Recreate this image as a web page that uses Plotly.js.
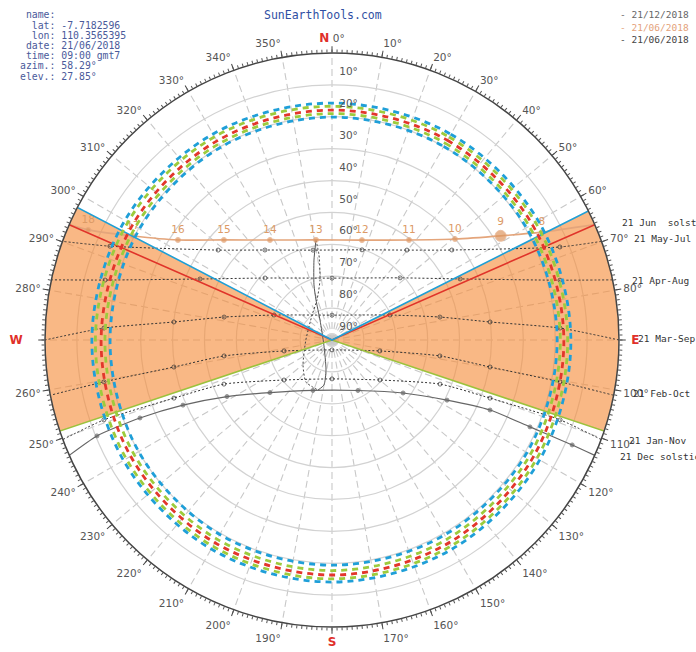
<!DOCTYPE html>
<html><head><meta charset="utf-8">
<script src="https://cdn.plot.ly/plotly-3.0.1.min.js"></script>
<style>html,body{margin:0;padding:0;background:#fff}</style>
</head><body>
<div id="chart" style="width:696px;height:652px"></div>
<script>
// ---------- data (azimuth in degrees from N clockwise, elevation in degrees) ----------
const elevTicks = [10, 20, 30, 40, 50, 60, 70, 80, 90];
const elevTickText = ['10°', '20°', '30°', '40°', '50°', '60°', '70°', '80°', '90°'];
const azTicks = [0,10,20,30,40,50,60,70,80,90,100,110,120,130,140,150,160,170,180,190,200,210,220,230,240,250,260,270,280,290,300,310,320,330,340,350];

// shaded sectors (start / end azimuth)
const sectorStart = [63.3, 251.5];
const sectorEnd = [108.5, 297.5];

// rays: [left az, right az], reach expressed as elevation below horizon
const blueRayAz = [297.5, 63.3];   const blueRayEl = [-18.8, -19.0];
const redRayAz = [293.7, 66.3];    const redRayEl = [-18.2, -19.0];
const greenRayAz = [251.5, 108.5]; const greenRayEl = [-16.6, -28.0];

// selected date 21/06/2018 sun path with hours
const junAz = [66.3, 62.8, 58.29, 50.6, 37.6, 16.7, 350.9, 328.2, 312.8, 303.0, 297.6, 294.3, 293.7];
const junEl = [0, 16.0, 27.85, 40.1, 50.4, 57.3, 58.2, 53.1, 43.8, 32.4, 19.6, 6.1, 0];
const junHours = ['', '8', '9', '10', '11', '12', '13', '14', '15', '16', '17', '18', ''];

// monthly sun paths
const mayJulAz = [69.9, 67.8, 53.1, 39.8, 18.4, 348.1, 323.3, 308.3, 292.9, 290.1];
const mayJulEl = [0, 12.8, 43.0, 53.3, 60.2, 61.2, 54.8, 44.5, 14.4, 0];
const aprAugAz = [77.9, 75.3, 64.5, 47.6, 0, 312.8, 294.8, 284.8, 282.1];
const aprAugEl = [0, 16.1, 45.5, 61.1, 70.6, 61.4, 44.4, 16.4, 0];
const marSepAz = [90, 87.0, 83.5, 78.0, 66.7, 0, 293.3, 282.0, 276.5, 273.0, 270];
const marSepEl = [0, 18.4, 40.1, 55.4, 70.2, 82.2, 70.2, 55.4, 40.1, 18.4, 0];
const febOctAz = [101.1, 100.4, 99.7, 98.4, 102.9, 180, 257.1, 261.6, 260.3, 259.6, 258.9];
const febOctEl = [0, 17.3, 39.7, 55.8, 74.6, 86.9, 74.6, 55.8, 39.7, 17.3, 0];
const janNovAz = [110.3, 109.3, 110.2, 112.2, 129.8, 180, 230.2, 247.8, 249.8, 250.7, 249.7];
const janNovEl = [0, 14.2, 37.2, 53.4, 70.4, 77.8, 70.4, 53.4, 37.2, 14.2, 0];
const decAz = [113.7, 113.6, 113.7, 113.9, 117.6, 126.7, 152.8, 200.7, 229.7, 241.7, 246.4, 247.9, 247.8, 246.3];
const decEl = [0, 7.8, 22.2, 35.8, 49.3, 62.2, 72.2, 73.1, 64.5, 52.6, 39.0, 25.0, 10.4, 0];

// analemma (13h)
const anaSolidAz = [350.9, 347.3, 341.9, 338.2, 329.0, 238.0, 191.3, 190.1, 195.6];
const anaSolidEl = [58.2, 64.3, 71.8, 76.5, 82.7, 87.0, 80.4, 75.7, 73.7];
const anaDotAz = [350.9, 351.3, 348.7, 339.4, 321.3, 270.0, 229.2, 211.8, 195.6];
const anaDotEl = [58.2, 63.0, 70.8, 76.6, 80.0, 81.8, 78.0, 74.5, 73.7];

// dashed rings
const ringAz = [0, 30, 60, 90, 120, 150, 180, 210, 240, 270, 300, 330, 360];
const ringOuterBlue  = [15.7, 15.5, 15.3, 15.1, 14.8, 14.4, 14.1, 14.3, 14.5, 14.7, 15.0, 15.4, 15.7];
const ringOuterGreen = [16.7, 16.5, 16.3, 16.1, 15.8, 15.4, 15.1, 15.3, 15.5, 15.8, 16.1, 16.4, 16.7];
const ringRed        = [17.9, 17.7, 17.5, 17.3, 17.0, 16.6, 16.3, 16.6, 17.1, 17.6, 17.8, 17.9, 17.9];
const ringInnerGreen = [19.0, 18.8, 18.6, 18.4, 18.2, 17.9, 17.7, 17.9, 18.3, 18.8, 18.9, 19.0, 19.0];
const ringInnerBlue  = [20.1, 19.9, 19.6, 19.4, 19.4, 19.4, 19.4, 19.6, 20.0, 20.4, 20.3, 20.2, 20.1];

// texts
const infoLines = [' name:', '  lat: -7.7182596', '  lon: 110.3565395', ' date: 21/06/2018', ' time: 09:00 gmt7', 'azim.: 58.29°', 'elev.: 27.85°'];
const legendLines = ['- 21/12/2018', '- 21/06/2018', '- 21/06/2018'];
const legendColors = ['#666666', '#e4a27a', '#444444'];
const pathLabels = ['21 Jun  solst', '21 May-Jul', '21 Apr-Aug', '21 Mar-Sep', '21 Feb-Oct', '21 Jan-Nov', '21 Dec solstic'];

// ---------- build ----------
const zen = a => a.map(e => 90 - e);
const W = 696, H = 652;
const px = x => x / W, py = y => 1 - y / H;

const traces = [];
traces.push({
  type: 'barpolar', subplot: 'polar',
  r: sectorStart.map(() => 90),
  theta: sectorStart.map((s, i) => (s + sectorEnd[i]) / 2),
  width: sectorStart.map((s, i) => sectorEnd[i] - s),
  marker: {color: 'rgba(245,140,58,0.62)', line: {width: 0}},
  hoverinfo: 'skip'
});

function pathTrace(az, el, dash, color, width, msym, msize) {
  return {
    type: 'scatterpolar', subplot: 'polar', mode: msize ? 'lines+markers' : 'lines',
    theta: az, r: zen(el),
    line: {color: color, width: width, dash: dash, shape: 'spline', smoothing: 0.6},
    marker: {symbol: msym, size: az.map((_, i) => (i === 0 || i === az.length - 1) ? 0 : msize), color: color, line: {color: color, width: 1}},
    hoverinfo: 'skip', cliponaxis: true
  };
}
traces.push(pathTrace(mayJulAz, mayJulEl, '2px,2px', '#333', 1, 'circle-open', 4));
traces.push(pathTrace(aprAugAz, aprAugEl, '2px,2px', '#333', 1, 'circle-open', 4));
traces.push(pathTrace(marSepAz, marSepEl, '2px,2px', '#333', 1, 'circle-open', 4));
traces.push(pathTrace(febOctAz, febOctEl, '2px,2px', '#333', 1, 'circle-open', 4));
traces.push(pathTrace(janNovAz, janNovEl, '2px,2px', '#333', 1, 'circle-open', 4));
traces.push(pathTrace(decAz, decEl, 'solid', '#666', 1.2, 'circle', 4));
traces.push(pathTrace(anaSolidAz, anaSolidEl, 'solid', '#555', 1, 'circle', 0));
traces.push(pathTrace(anaDotAz, anaDotEl, '2px,2px', '#444', 1, 'circle', 0));

// selected date path
traces.push({
  type: 'scatterpolar', subplot: 'polar', mode: 'lines+markers+text',
  theta: junAz, r: zen(junEl), text: junHours, textposition: 'top center',
  textfont: {family: 'DejaVu Sans', size: 10.5, color: '#dc9a66'},
  line: {color: '#e4a57b', width: 1.6, shape: 'spline', smoothing: 0.6},
  marker: {size: junHours.map((h, i) => h === '' ? 0 : (h === '9' ? 11 : 5)), color: '#de9760'},
  hoverinfo: 'skip'
});

// rays
function ray(az, el, color) {
  return {
    type: 'scatterpolar', subplot: 'polar', mode: 'lines',
    theta: [az[0], az[0], az[1]], r: [90 - el[0], 0, 90 - el[1]],
    line: {color: color, width: 1.6}, hoverinfo: 'skip', cliponaxis: false
  };
}
traces.push(ray(greenRayAz, greenRayEl, '#9cc23c'));
traces.push(ray(redRayAz, redRayEl, '#e0342a'));
traces.push(ray(blueRayAz, blueRayEl, '#1f9fd5'));

// dashed rings
function ring(el, color) {
  return {
    type: 'scatterpolar', subplot: 'polar', mode: 'lines',
    theta: ringAz, r: zen(el),
    line: {color: color, width: 2.8, dash: '6px,5px', shape: 'spline', smoothing: 1},
    hoverinfo: 'skip'
  };
}
traces.push(ring(ringOuterBlue, '#1f9fd8'));
traces.push(ring(ringOuterGreen, '#9dcb3c'));
traces.push(ring(ringRed, '#e3362c'));
traces.push(ring(ringInnerGreen, '#9dcb3c'));
traces.push(ring(ringInnerBlue, '#1f9fd8'));

// elevation labels
traces.push({
  type: 'scatterpolar', subplot: 'polar', mode: 'markers+text',
  theta: elevTicks.map(() => 0), r: zen(elevTicks), text: elevTickText,
  textposition: 'top right', textfont: {family: 'DejaVu Sans', size: 10.5, color: '#555'},
  marker: {size: 10, color: 'rgba(0,0,0,0)'}, hoverinfo: 'skip', cliponaxis: false
});

// dummy trace for minor tick ring
traces.push({type: 'scatterpolar', subplot: 'polar2', r: [0], theta: [0], mode: 'markers', marker: {opacity: 0}, hoverinfo: 'skip'});

const red = '#e0302a';
const cardinal = t => '<span style="color:' + red + ';font-weight:bold;font-size:12px">' + t + '</span>';
const azText = azTicks.map(v => {
  if (v === 0) return cardinal('N') + ' 0°';
  if (v === 90) return '&nbsp;' + cardinal('E');
  if (v === 180) return cardinal('S');
  if (v === 270) return cardinal('W') + '&nbsp;&nbsp;&nbsp;&nbsp;';
  return v + '°';
});
const minorTicks = [];
for (let a = 0; a < 360; a++) minorTicks.push(a);

const dom = {x: [45 / W, 619 / W], y: [25 / H, 599 / H]};
const annotations = [];
annotations.push({xref: 'paper', yref: 'paper', x: px(323), y: py(15), text: 'SunEarthTools.com', showarrow: false,
  xanchor: 'center', yanchor: 'middle', font: {family: 'DejaVu Sans Mono', size: 11.5, color: '#2f4fa3'}});
const infoY = [15, 25.3, 35.6, 45.9, 56, 66, 76];
infoLines.forEach((t, i) => annotations.push({xref: 'paper', yref: 'paper', x: px(18), y: py(infoY[i]), text: t.replace(/ /g, '&nbsp;'),
  showarrow: false, xanchor: 'left', yanchor: 'middle', font: {family: 'DejaVu Sans Mono', size: 9.8, color: '#4a5a9a'}}));
const legY = [15, 27.5, 40];
legendLines.forEach((t, i) => annotations.push({xref: 'paper', yref: 'paper', x: px(618), y: py(legY[i]), text: t,
  showarrow: false, xanchor: 'left', yanchor: 'middle', font: {family: 'DejaVu Sans Mono', size: 9.5, color: legendColors[i]}}));
const plX = [620, 632, 630, 636, 631, 627, 618];
const plY = [222, 238, 280, 338, 393, 440, 456];
pathLabels.forEach((t, i) => annotations.push({xref: 'paper', yref: 'paper', x: px(plX[i]), y: py(plY[i]), text: t.replace(/ /g, '&nbsp;'),
  showarrow: false, xanchor: 'left', yanchor: 'middle', font: {family: 'DejaVu Sans Mono', size: 9.5, color: '#333'}}));

const layout = {
  width: W, height: H, margin: {l: 0, r: 0, t: 0, b: 0},
  paper_bgcolor: '#fff', showlegend: false,
  font: {family: 'DejaVu Sans', size: 10.5, color: '#555'},
  polar: {
    domain: dom, bgcolor: '#fff',
    radialaxis: {range: [0, 90], tickvals: [10, 20, 30, 40, 50, 60, 70, 80], showticklabels: false, ticks: '',
      showline: false, gridcolor: '#d2d2d2', gridwidth: 1.2, angle: 90},
    angularaxis: {type: 'linear', rotation: 90, direction: 'clockwise', tickvals: azTicks, ticktext: azText,
      ticks: 'outside', ticklen: 6, tickcolor: '#444', tickwidth: 1, linecolor: '#444', linewidth: 1.5,
      gridcolor: '#c8c8c8', gridwidth: 1.1, griddash: '7px,4px', tickfont: {family: 'DejaVu Sans', size: 10.5, color: '#555'}}
  },
  polar2: {
    domain: dom, bgcolor: 'rgba(0,0,0,0)',
    radialaxis: {visible: false, range: [0, 90]},
    angularaxis: {type: 'linear', rotation: 90, direction: 'clockwise', tickvals: minorTicks, showticklabels: false,
      ticks: 'outside', ticklen: 3, tickcolor: '#555', tickwidth: 1, showgrid: false, showline: false}
  },
  annotations: annotations
};
Plotly.newPlot('chart', traces, layout, {displayModeBar: false, staticPlot: true});
</script></body></html>
